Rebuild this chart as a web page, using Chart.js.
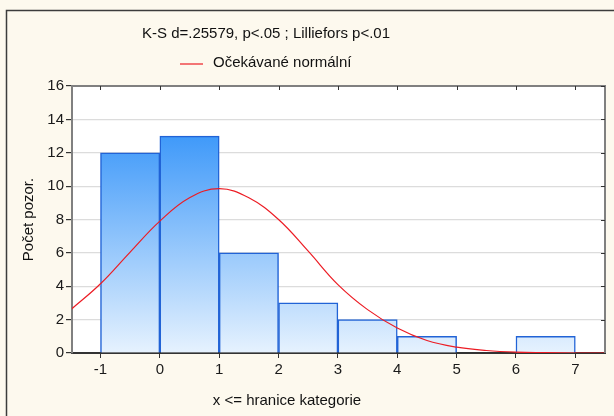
<!DOCTYPE html>
<html>
<head>
<meta charset="utf-8">
<script src="https://cdn.jsdelivr.net/npm/chart.js@4"></script>
<style>
    html, body { margin: 0; padding: 0; background: #fdf9ee; }
    #wrap { width: 614px; height: 416px; }
</style>
</head>
<body>
<div id="wrap"><canvas id="chart-histograma" width="614" height="416"></canvas></div>
<script>
// horní hranice kategorií a počty pozorování
const hranice = [0, 1, 2, 3, 4, 5, 6, 7];
const pocty = [12, 13, 6, 3, 2, 1, 0, 1];

// očekávané normální (odečteno po 0.5)
const normalX = [-1.5, -1, -0.5, 0, 0.5, 1, 1.5, 2, 2.5, 3, 3.5, 4, 4.5, 5, 5.5, 6, 6.5, 7, 7.5];
const normalY = [2.6, 4.15, 6.05, 7.9, 9.3, 9.85, 9.3, 8.0, 6.1, 4.1, 2.6, 1.5, 0.75, 0.35, 0.15, 0.05, 0.02, 0, 0];

const xTicks = [-1, 0, 1, 2, 3, 4, 5, 6, 7];
const yTicks = [0, 2, 4, 6, 8, 10, 12, 14, 16];

const titulek = 'K-S d=.25579, p<.05 ; Lilliefors p<.01';
const legenda = 'Očekávané normální';
const osaX = 'x <= hranice kategorie';
const osaY = 'Počet pozor.';

const FONT = '"Liberation Sans", Arial, sans-serif';

const grafico = {
    init: function() {
        const ctx = document.getElementById('chart-histograma').getContext('2d');
        new Chart(ctx, {
            type: 'bar',
            data: {
                datasets: [
                    {
                        type: 'line',
                        label: legenda,
                        data: normalX.map((x, i) => ({ x: x, y: normalY[i] })),
                        borderColor: '#ec1c24',
                        borderWidth: 1.2,
                        pointRadius: 0,
                        tension: 0.4,
                        fill: false,
                        order: 0
                    },
                    {
                        label: 'Počet',
                        data: hranice.map((h, i) => ({ x: h - 0.5, y: pocty[i] })),
                        backgroundColor: (c) => this.gradient(c.chart),
                        borderColor: '#2163d6',
                        borderWidth: 1.5,
                        barPercentage: 1,
                        categoryPercentage: 1,
                        order: 1
                    }
                ]
            },
            options: {
                responsive: false,
                devicePixelRatio: 1,
                animation: false,
                layout: { padding: { left: 0, top: 86, right: 9, bottom: 0 } },
                plugins: {
                    legend: { display: false },
                    title: { display: false },
                    tooltip: { enabled: false }
                },
                scales: {
                    x: {
                        type: 'linear',
                        min: -1.48,
                        max: 7.5,
                        offset: false,
                        afterBuildTicks: (s) => { s.ticks = xTicks.map(v => ({ value: v })); },
                        afterFit: (s) => { s.height = 63; },
                        ticks: { color: '#1a1a1a', font: { family: FONT, size: 15 }, padding: 3 },
                        grid: { drawOnChartArea: false, offset: false, tickLength: 5, tickColor: '#333' },
                        border: { color: '#333', width: 2 }
                    },
                    y: {
                        min: 0,
                        max: 16,
                        afterBuildTicks: (s) => { s.ticks = yTicks.map(v => ({ value: v })); },
                        afterFit: (s) => { s.width = 72; },
                        ticks: { color: '#1a1a1a', font: { family: FONT, size: 15 }, padding: 2 },
                        grid: { color: '#dcdcdc', lineWidth: 1.2, tickLength: 6, tickColor: '#333' },
                        border: { color: '#808080', width: 2 }
                    }
                }
            },
            plugins: [this.ramecek]
        });
    },

    gradient: function(chart) {
        const a = chart.chartArea;
        if (!a) return '#6fb2f7';
        const g = chart.ctx.createLinearGradient(0, a.bottom, 0, a.top);
        g.addColorStop(0, '#e6f2fe');
        g.addColorStop(1, '#1985f8');
        return g;
    },

    ramecek: {
        id: 'ramecek',
        beforeDraw: function(chart) {
            const ctx = chart.ctx;
            const a = chart.chartArea;
            ctx.save();
            ctx.fillStyle = '#fdf9ee';
            ctx.fillRect(0, 0, chart.width, chart.height);
            ctx.fillStyle = '#ffffff';
            ctx.fillRect(a.left, a.top, a.right - a.left, a.bottom - a.top);
            // vnější rám
            ctx.strokeStyle = '#3c3c3c';
            ctx.lineWidth = 1.5;
            ctx.beginPath();
            ctx.moveTo(6.5, chart.height);
            ctx.lineTo(6.5, 10.5);
            ctx.lineTo(chart.width, 10.5);
            ctx.stroke();
            ctx.restore();
        },
        afterDraw: function(chart) {
            const ctx = chart.ctx;
            const a = chart.chartArea;
            const sx = chart.scales.x;
            const sy = chart.scales.y;
            ctx.save();

            // horní a pravá osa s vnitřními značkami
            ctx.strokeStyle = '#808080';
            ctx.lineWidth = 2;
            ctx.beginPath();
            ctx.moveTo(a.left, a.top);
            ctx.lineTo(a.right, a.top);
            ctx.lineTo(a.right, a.bottom);
            ctx.stroke();
            ctx.strokeStyle = '#333';
            ctx.lineWidth = 1;
            ctx.beginPath();
            xTicks.forEach(v => {
                const px = Math.round(sx.getPixelForValue(v)) + 0.5;
                ctx.moveTo(px, a.top);
                ctx.lineTo(px, a.top + 4);
            });
            yTicks.forEach(v => {
                const py = Math.round(sy.getPixelForValue(v)) + 0.5;
                ctx.moveTo(a.right, py);
                ctx.lineTo(a.right - 4, py);
            });
            ctx.stroke();

            // texty
            ctx.fillStyle = '#111';
            ctx.font = '15px ' + FONT;
            ctx.textBaseline = 'middle';
            ctx.textAlign = 'center';
            ctx.fillText(titulek, 266, 34);
            ctx.fillText(osaX, 287, 401);

            ctx.textAlign = 'left';
            ctx.fillText(legenda, 213, 63);
            ctx.strokeStyle = '#ec1c24';
            ctx.lineWidth = 1.2;
            ctx.beginPath();
            ctx.moveTo(180, 64);
            ctx.lineTo(203, 64);
            ctx.stroke();

            ctx.translate(29, (a.top + a.bottom) / 2);
            ctx.rotate(-Math.PI / 2);
            ctx.textAlign = 'center';
            ctx.fillText(osaY, 0, 0);
            ctx.restore();
        }
    }
};

grafico.init();
</script>
</body>
</html>
